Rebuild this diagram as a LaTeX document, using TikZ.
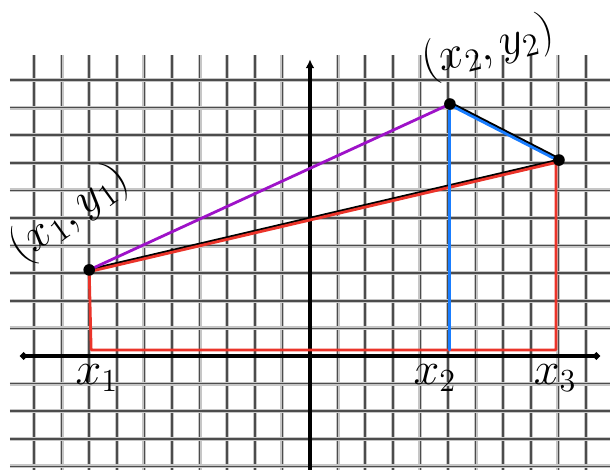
\documentclass[tikz,border=0pt]{standalone}
\usepackage{graphicx}
\usetikzlibrary{arrows.meta}
\definecolor{mypurple}{RGB}{158,18,200}
\definecolor{myblue}{RGB}{25,125,255}
\definecolor{myred}{RGB}{235,52,42}
\newcommand{\hw}[1]{\scalebox{2.3}{\huge$#1$}}
\begin{document}
\begin{tikzpicture}[x=1cm,y=1cm,
  gridsoft/.style={gray!45,line width=4pt},
  gridhard/.style={black!70,line width=1.5pt},
  axisline/.style={black,line width=3.4pt},
  seg/.style={line width=2.9pt,line cap=round,line join=round},
  ptdot/.style={circle,fill=black,inner sep=0pt,minimum size=12pt},
  hand/.style={inner sep=1pt}
]
\useasboundingbox (-11.232,-4.130) rectangle (10.870,12.899);
\fill[white] (-11.232,-4.130) rectangle (10.870,12.899);
% grid
\foreach \x in {-10,...,-1,1,2,...,10} {
  \draw[gridsoft] (\x,-4.2) -- (\x,10.9);
  \draw[gridhard] (\x,-4.2) -- (\x,10.9);
}
\foreach \y in {-4,...,-1,1,2,...,10} {
  \draw[gridsoft] (-10.87,\y) -- (10.9,\y);
  \draw[gridhard] (-10.87,\y) -- (10.9,\y);
}
% axes
\draw[axisline,{Circle[length=7pt]}-{Circle[length=7pt]}] (-10.5,0) -- (10.5,0);
\draw[axisline,-{Latex[length=9pt,width=9pt]}] (0,-4.2) -- (0,10.75);
% points
\coordinate (P1) at (-8.0,3.12);
\coordinate (P2) at (5.07,9.13);
\coordinate (P3) at (9.02,7.10);
\coordinate (B1) at (-7.93,0.22);
\coordinate (B2) at (5.04,0.22);
\coordinate (B3) at (8.91,0.22);
\coordinate (T3) at (8.91,7.02);
\coordinate (P2b) at (5.04,9.13);
% segments
\draw[seg,black] (P1) -- (P3);
\draw[seg,myred] ([yshift=-1.8pt]P1) -- ([yshift=-1.8pt]P3);
\draw[seg,black] ([yshift=1.3pt]P2) -- ([yshift=1.3pt]P3);
\draw[seg,myblue] ([yshift=-0.9pt]P2) -- ([yshift=-0.9pt]P3);
\draw[seg,mypurple] (P1) -- (P2);
\draw[seg,myred] (P1) -- (B1) -- (B3) -- (T3);
\draw[seg,myblue] (P2b) -- (B2);
% dots
\node[ptdot] (D1) at (P1) {};
\node[ptdot] (D2) at (P2) {};
\node[ptdot] (D3) at (P3) {};
% labels
\node[hand,rotate=36] (L1) at (-8.72,5.15) {\hw{(x_1,y_1)}};
\node[hand,rotate=14] (L2) at (6.45,11.16) {\hw{(x_2,y_2)}};
\node[hand] (X1) at (-7.72,-0.80) {\hw{x_1}};
\node[hand] (X2) at (4.53,-0.80) {\hw{x_2}};
\node[hand] (X3) at (8.88,-0.80) {\hw{x_3}};
\end{tikzpicture}
\end{document}
